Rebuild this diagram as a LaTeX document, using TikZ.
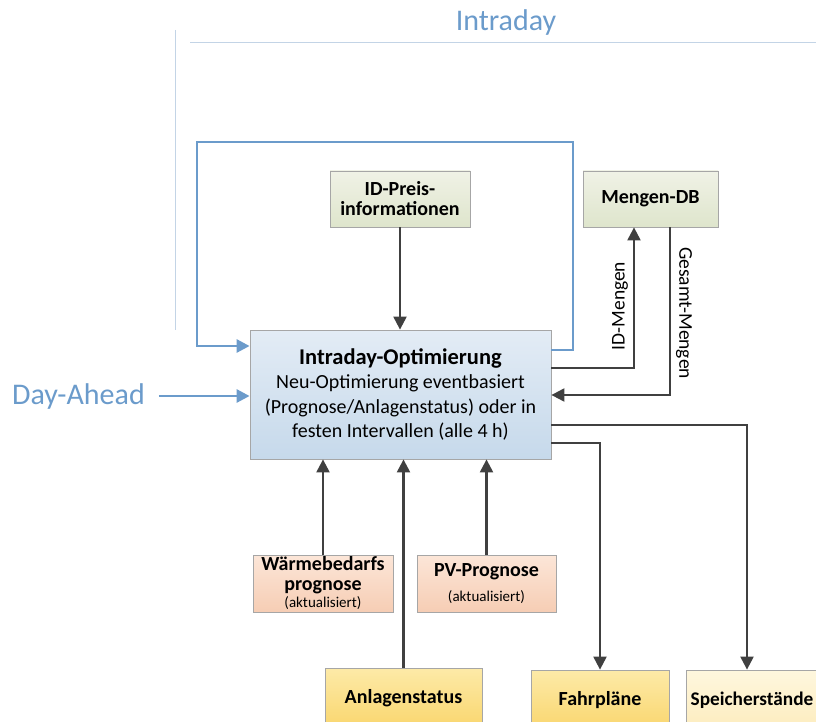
\documentclass[tikz,border=0pt]{standalone}
\usepackage{fontspec}
\setmainfont{Carlito}
\usetikzlibrary{arrows.meta}
\definecolor{phaseblue}{HTML}{6B9BCB}
\definecolor{guide}{HTML}{C3D4E6}
\definecolor{wire}{HTML}{404040}
\definecolor{frame}{HTML}{A6A6A6}
\tikzset{
  box/.style={draw=frame, line width=0.8pt, align=center, inner sep=0pt},
  greenbox/.style={box, top color={rgb,255:red,240;green,242;blue,230}, bottom color={rgb,255:red,222;green,229;blue,204}},
  mainbox/.style={box, top color={rgb,255:red,227;green,236;blue,245}, bottom color={rgb,255:red,198;green,217;blue,235}},
  peachbox/.style={box, top color={rgb,255:red,252;green,230;blue,216}, bottom color={rgb,255:red,246;green,205;blue,180}},
  yellowbox/.style={box, top color={rgb,255:red,253;green,234;blue,168}, bottom color={rgb,255:red,249;green,214;blue,110}},
  creambox/.style={box, top color={rgb,255:red,254;green,247;blue,222}, bottom color={rgb,255:red,253;green,236;blue,190}},
  flow/.style={draw=wire, line width=2.2pt, -{Triangle[length=13pt,width=13pt]}},
  blueflow/.style={draw=phaseblue, line width=2.8pt, -{Triangle[length=13pt,width=13pt]}},
  phase/.style={text=phaseblue, font=\fontsize{30}{34}\selectfont},
  lbl/.style={font=\fontsize{19.5}{22}\selectfont},
  boxtext/.style={font=\fontsize{20}{20}\selectfont\bfseries}
}
\begin{document}
\begin{tikzpicture}[x=1pt,y=-1pt]
\useasboundingbox (0,0) rectangle (816,722);
\clip (0,0) rectangle (816,722);

% phase headings and guide lines
\node[phase] (intraday) at (506,23) {Intraday};
\draw[guide, line width=1pt] (190,43) -- (816,43);
\draw[guide, line width=1pt] (175,30) -- (175,330);
\node[phase, anchor=west, inner sep=0pt] (dayahead) at (12,396) {Day-Ahead};

% boxes
\node[greenbox, minimum width=140pt, minimum height=56pt, boxtext] (preis) at (400,199)
  {ID-Preis-\\informationen};
\node[greenbox, minimum width=135pt, minimum height=56pt, boxtext] (mdb) at (650.5,199) {Mengen-DB};
\node[mainbox, minimum width=301pt, minimum height=129pt, font=\fontsize{20}{24.5}\selectfont] (opt) at (400.5,394.5)
  {\fontsize{22.5}{24.5}\selectfont\bfseries Intraday-Optimierung\\\fontsize{20}{24.5}\selectfont\mdseries Neu-Optimierung eventbasiert\\(Prognose/Anlagenstatus) oder in\\festen Intervallen (alle 4 h)};
\node[peachbox, minimum width=140pt, minimum height=57pt, boxtext] (waerme) at (323,583.5)
  {Wärmebedarfs\\prognose\\[-3pt]\mdseries\fontsize{15}{17}\selectfont (aktualisiert)};
\node[peachbox, minimum width=139pt, minimum height=57pt, boxtext] (pv) at (486.5,583.5)
  {PV-Prognose\\[5pt]\mdseries\fontsize{15}{17}\selectfont (aktualisiert)};
\node[yellowbox, minimum width=157pt, minimum height=60pt, boxtext] (anlage) at (403.5,698) {Anlagenstatus};
\node[yellowbox, minimum width=138pt, minimum height=60pt, boxtext] (fahr) at (600,700) {Fahrpläne};
\node[creambox, minimum width=132pt, minimum height=60pt, boxtext, font=\fontsize{19.3}{20}\selectfont\bfseries] (speicher) at (752,700) {Speicherstände};

% intraday loop
\draw[blueflow] (opt.east |- 0,350) -- (573,350) -- (573,142) -- (197,142) -- (197,346) -- (opt.west |- 0,346);
\draw[blueflow, shorten <=14pt] (dayahead.east) -- (opt.west |- dayahead.east);

% price information
\draw[flow] (preis.south) -- (opt.north -| preis.south);

% quantities database
\draw[flow] (opt.east |- 0,368) -- (634,368) -- (mdb.south -| 634,0);
\node[lbl, rotate=90] (idm) at (620,306) {ID-Mengen};
\draw[flow] (mdb.south -| 670,0) -- (670,395) -- (opt.east |- 0,395);
\node[lbl, rotate=-90] (gesamt) at (684,313) {Gesamt-Mengen};

% forecasts and plant status
\draw[flow] (waerme.north) -- (opt.south -| waerme.north);
\draw[flow] (pv.north) -- (opt.south -| pv.north);
\draw[flow] (anlage.north) -- (opt.south -| anlage.north);

% outputs
\draw[flow] (opt.east |- 0,443) -- (600,443) -- (fahr.north);
\draw[flow] (opt.east |- 0,425) -- (747,425) -- (speicher.north -| 747,0);
\end{tikzpicture}
\end{document}
